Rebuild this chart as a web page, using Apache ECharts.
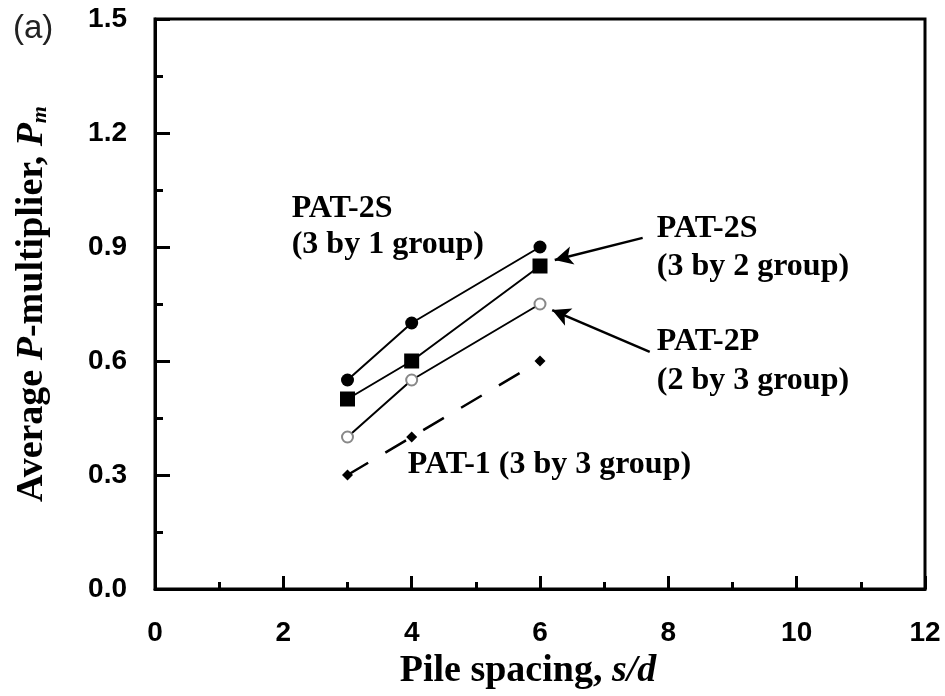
<!DOCTYPE html>
<html>
<head>
<meta charset="utf-8">
<script src="https://cdn.jsdelivr.net/npm/echarts@6/dist/echarts.min.js"></script>
<style>
html,body{margin:0;padding:0;background:#fff;}
#chart{width:945px;height:696px;}
</style>
</head>
<body>
<div id="chart"></div>
<script>
// ---- data ----
var spacing = [3, 4, 6];
var pat2S_3by1 = [0.55, 0.70, 0.90];
var pat2S_3by2 = [0.50, 0.60, 0.85];
var pat2P_2by3 = [0.40, 0.55, 0.75];
var pat1_3by3  = [0.30, 0.40, 0.60];
var xTicks = [0, 2, 4, 6, 8, 10, 12];
var yTicks = [0.0, 0.3, 0.6, 0.9, 1.2, 1.5];

// annotations (data coords)
var labelTexts = [
  { text: 'PAT-2S', x: 2.13, y: 0.995 },
  { text: '(3 by 1 group)', x: 2.13, y: 0.902 },
  { text: 'PAT-2S', x: 7.82, y: 0.942 },
  { text: '(3 by 2 group)', x: 7.82, y: 0.842 },
  { text: 'PAT-2P', x: 7.82, y: 0.645 },
  { text: '(2 by 3 group)', x: 7.82, y: 0.543 },
  { text: 'PAT-1 (3 by 3 group)', x: 3.94, y: 0.321 }
];
var arrows = [
  { from: [7.60, 0.924], to: [6.23, 0.866] },
  { from: [7.71, 0.624], to: [6.19, 0.734] }
];

function pairs(xs, ys) { return xs.map(function (x, i) { return [x, ys[i]]; }); }

var chart = echarts.init(document.getElementById('chart'), null, { renderer: 'canvas' });

var option = {
  backgroundColor: '#fff',
  animation: false,
  grid: { left: 155, right: 20, top: 19, bottom: 107, show: true, borderColor: '#000', borderWidth: 3, backgroundColor: 'transparent' },
  xAxis: {
    type: 'value', min: 0, max: 12, interval: 2,
    name: 'Pile spacing, {i|s/d}',
    nameLocation: 'middle', nameGap: 63,
    nameTextStyle: {
      fontFamily: 'Liberation Serif', fontWeight: 'bold', fontSize: 38, color: '#000', padding: [0, 24, 0, 0],
      rich: { i: { fontFamily: 'Liberation Serif', fontStyle: 'italic', fontWeight: 'bold', fontSize: 38, color: '#000' } }
    },
    axisLine: { show: true, lineStyle: { color: '#000', width: 3 } },
    axisTick: { show: true, inside: true, length: 13, lineStyle: { color: '#000', width: 3 } },
    minorTick: { show: true, splitNumber: 2, length: 7, lineStyle: { color: '#000', width: 3 } },
    axisLabel: { margin: 30, fontFamily: 'Liberation Sans', fontWeight: 'bold', fontSize: 28, color: '#000',
      formatter: function (v) { return xTicks.indexOf(v) >= 0 ? String(v) : ''; } },
    splitLine: { show: false }
  },
  yAxis: {
    type: 'value', min: 0, max: 1.5, interval: 0.3,
    name: 'Average {i|P}-multiplier, {i|P}{sub|m}',
    nameLocation: 'middle', nameGap: 104, nameRotate: 90,
    nameTextStyle: {
      fontFamily: 'Liberation Serif', fontWeight: 'bold', fontSize: 38, color: '#000',
      rich: {
        i: { fontFamily: 'Liberation Serif', fontStyle: 'italic', fontWeight: 'bold', fontSize: 38, color: '#000' },
        sub: { fontFamily: 'Liberation Serif', fontStyle: 'italic', fontWeight: 'bold', fontSize: 22, color: '#000', verticalAlign: 'bottom', padding: [14, 0, 0, 0] }
      }
    },
    axisLine: { show: true, lineStyle: { color: '#000', width: 3 } },
    axisTick: { show: true, inside: true, length: 15, lineStyle: { color: '#000', width: 3 } },
    minorTick: { show: true, splitNumber: 2, length: 8, lineStyle: { color: '#000', width: 3 } },
    axisLabel: { margin: 28, fontFamily: 'Liberation Sans', fontWeight: 'bold', fontSize: 28, color: '#000',
      formatter: function (v) { return v.toFixed(1); } },
    splitLine: { show: false }
  },
  series: [
    {
      name: 'PAT-2S (3 by 1 group)', type: 'line', data: pairs(spacing, pat2S_3by1),
      symbol: 'circle', symbolSize: 13, itemStyle: { color: '#000' },
      lineStyle: { color: '#000', width: 2 }
    },
    {
      name: 'PAT-2S (3 by 2 group)', type: 'line', data: pairs(spacing, pat2S_3by2),
      symbol: 'rect', symbolSize: 15, itemStyle: { color: '#000' },
      lineStyle: { color: '#000', width: 2 }
    },
    {
      name: 'PAT-2P (2 by 3 group)', type: 'line', data: pairs(spacing, pat2P_2by3),
      symbol: 'circle', symbolSize: 11, showAllSymbol: true,
      itemStyle: { color: '#fff', borderColor: '#888', borderWidth: 2 },
      lineStyle: { color: '#000', width: 2 }, z: 3
    },
    {
      name: 'PAT-1 (3 by 3 group)', type: 'line', data: pairs(spacing, pat1_3by3),
      symbol: 'diamond', symbolSize: 11, itemStyle: { color: '#000' },
      lineStyle: { color: '#000', width: 2.5, type: [24, 20] },
      markLine: {
        silent: true, symbol: ['none', 'arrow'], symbolSize: [14, 18],
        label: { show: false },
        lineStyle: { color: '#000', width: 2.5, type: 'solid' },
        data: arrows.map(function (a) { return [{ coord: a.from }, { coord: a.to }]; })
      }
    }
  ]
};
chart.setOption(option);

function placeTexts() {
  var g = labelTexts.map(function (t) {
    var p = chart.convertToPixel({ gridIndex: 0 }, [t.x, t.y]);
    return {
      type: 'text', left: p[0], top: p[1] - 18,
      style: { text: t.text, font: 'bold 32px "Liberation Serif"', fill: '#000' }
    };
  });
  g.push({ type: 'text', left: 13, top: 12, style: { text: '(a)', font: '33px "Liberation Sans"', fill: '#222' } });
  chart.setOption({ graphic: g });
}
placeTexts();
</script>
</body>
</html>
